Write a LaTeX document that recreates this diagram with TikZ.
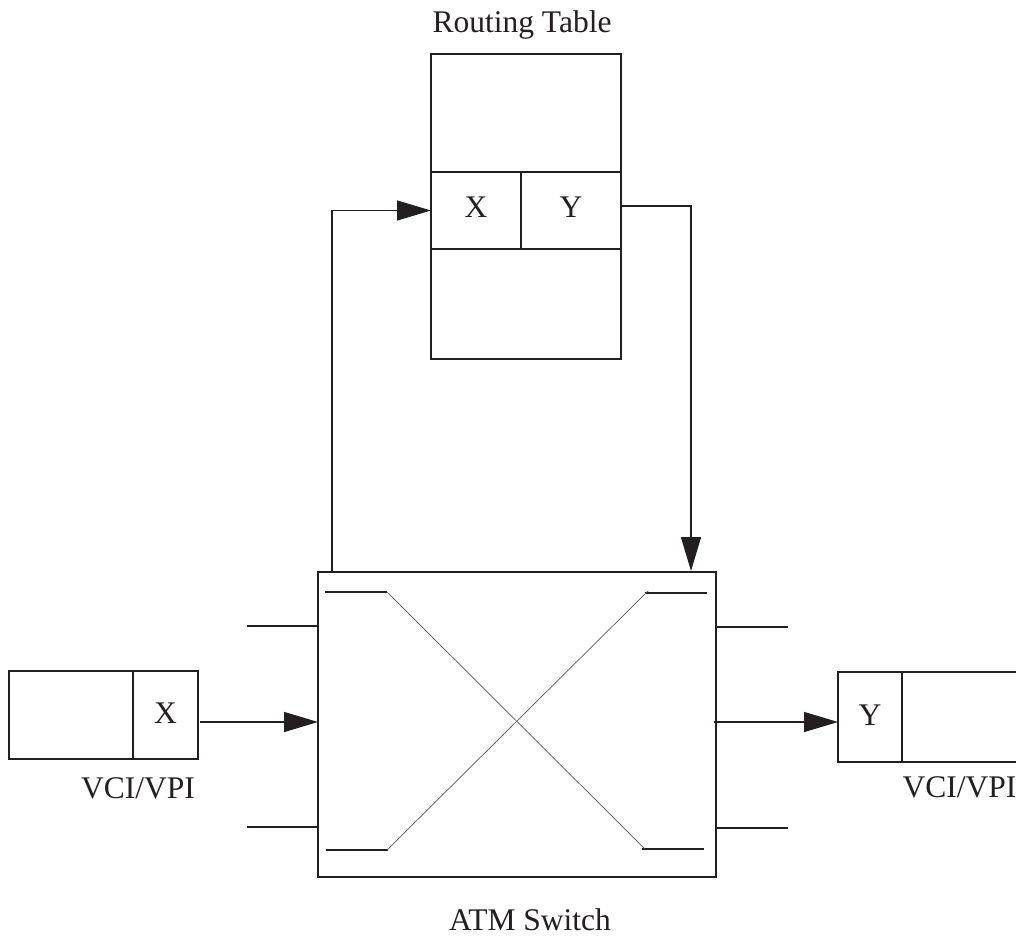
\documentclass[tikz,border=0pt]{standalone}
\usepackage{fontspec}
\setmainfont{Liberation Serif}
\usetikzlibrary{arrows.meta}
\definecolor{ink}{HTML}{231F20}
\tikzset{
  box/.style={draw=ink, line width=1.4pt, inner sep=0pt, outer sep=0pt, anchor=center,
              font=\fontsize{31.5}{36}\selectfont, text=ink},
  lbl/.style={inner sep=0pt, anchor=base, font=\fontsize{31.5}{36}\selectfont, text=ink},
  conn/.style={draw=ink, line width=1.4pt},
  arr/.style={conn, -{Triangle[length=34pt, width=20pt]}},
  stub/.style={draw=ink, line width=1.5pt},
  diag/.style={draw=ink!75, line width=0.7pt}
}
\begin{document}
\begin{tikzpicture}[x=1pt, y=-1pt]
\useasboundingbox (0,0) rectangle (1016,936);
% Routing table
\node[box, minimum width=190pt, minimum height=118pt] (rtTop) at (526,113) {};
\node[box, minimum width=90pt, minimum height=77pt] (rtX) at (476,210.5) {\raisebox{6pt}{X}};
\node[box, minimum width=100pt, minimum height=77pt] (rtY) at (571,210.5) {\raisebox{6pt}{Y}};
\node[box, minimum width=190pt, minimum height=110pt] (rtBot) at (526,304) {};
\node[lbl] (rtLabel) at (522,33) {Routing Table};
% ATM switch
\node[box, minimum width=398pt, minimum height=305pt] (sw) at (517,724.5) {};
\node[lbl] (swLabel) at (530,930) {ATM Switch};
% input cell
\node[box, minimum width=124pt, minimum height=88pt] (inA) at (71,715) {};
\node[box, minimum width=65pt, minimum height=88pt] (inX) at (165.5,715) {\raisebox{3pt}{X}};
\node[lbl] (inLabel) at (138,798) {VCI/VPI};
% output cell
\node[box, minimum width=64pt, minimum height=90pt] (outY) at (870,717) {\raisebox{4.5pt}{Y}};
\node[box, minimum width=128pt, minimum height=90pt] (outB) at (966,717) {};
\node[lbl] (outLabel) at (959.5,797) {VCI/VPI};
% switch interior
\draw[stub] (325,592) -- (387,592);
\draw[stub] (645,593) -- (707,593);
\draw[stub] (326,850) -- (388,850);
\draw[stub] (642,849) -- (704,849);
\draw[diag] (387,592) -- (645,849);
\draw[diag] (648,591) -- (387,850);
% outer stubs
\draw[stub] (247,626) -- (sw.west |- 0,626);
\draw[stub] (247,827) -- (sw.west |- 0,827);
\draw[stub] (sw.east |- 0,627) -- (788,627);
\draw[stub] (sw.east |- 0,828) -- (788,828);
% connectors
\coordinate (inStart) at (200,722);
\coordinate (swOut) at (714,722);
\coordinate (upStart) at (332,571);
\coordinate (downEnd) at (691,571);
\draw[arr] (inStart) -- (inStart -| sw.west);
\draw[arr] (swOut) -- (swOut -| outY.west);
\draw[arr] (upStart) |- (rtX.west);
\draw[arr] ([yshift=4.5pt]rtY.east) -| (downEnd);
\end{tikzpicture}
\end{document}
